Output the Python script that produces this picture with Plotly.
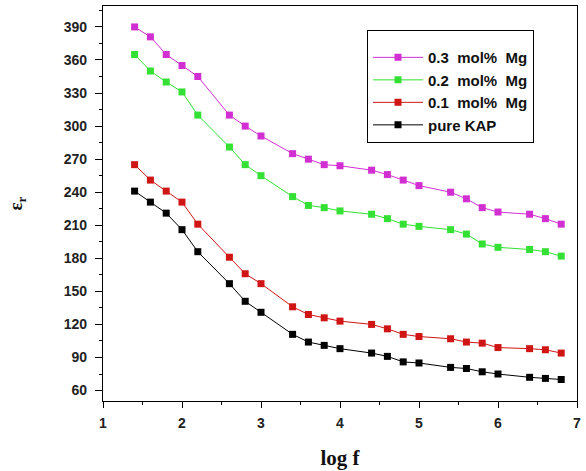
import plotly.graph_objects as go

log_f = [1.4, 1.6, 1.8, 2.0, 2.2, 2.6, 2.8, 3.0, 3.4, 3.6, 3.8, 4.0,
         4.4, 4.6, 4.8, 5.0, 5.4, 5.6, 5.8, 6.0, 6.4, 6.6, 6.8]

mg_03 = [390, 381, 365, 355, 345, 310, 300, 291, 275, 270, 265, 264,
         260, 256, 251, 246, 240, 234, 226, 222, 220, 216, 211]
mg_02 = [365, 350, 340, 331, 310, 281, 265, 255, 236, 228, 226, 223,
         220, 216, 211, 209, 206, 202, 193, 190, 188, 186, 182]
mg_01 = [265, 251, 241, 231, 211, 181, 166, 157, 136, 129, 126, 123,
         120, 116, 111, 109, 107, 104, 103, 99, 98, 97, 94]
pure_kap = [241, 231, 221, 206, 186, 157, 141, 131, 111, 104, 101, 98,
            94, 91, 86, 85, 81, 80, 77, 75, 72, 71, 70]

series = [
    ("0.3  mol%  Mg", mg_03, "#D12FD1"),
    ("0.2  mol%  Mg", mg_02, "#33E033"),
    ("0.1  mol%  Mg", mg_01, "#D01515"),
    ("pure KAP", pure_kap, "#000000"),
]

fig = go.Figure()
for name, vals, col in series:
    fig.add_trace(go.Scatter(
        x=log_f, y=vals, name=name, mode="lines+markers",
        line=dict(color=col, width=1),
        marker=dict(symbol="square", size=7, color=col),
    ))

tickfont = dict(family="Arial, Liberation Sans", size=14, color="#222222", weight="bold")

fig.update_layout(
    width=586, height=471,
    margin=dict(l=103, r=9, t=5, b=69),
    paper_bgcolor="white", plot_bgcolor="white",
    showlegend=True,
    legend=dict(
        x=0.557, y=0.94, xanchor="left", yanchor="top",
        bordercolor="black", borderwidth=1, bgcolor="white",
        font=dict(family="Arial, Liberation Sans", size=15, color="#111111", weight="bold"),
        title=dict(text=" ", font=dict(size=8)),
        itemwidth=50,
        tracegroupgap=0,
    ),
    xaxis=dict(
        range=[1, 7], tickmode="linear", tick0=1, dtick=1,
        showline=True, linecolor="black", linewidth=1.2, mirror=True,
        ticks="outside", ticklen=6, tickwidth=1, tickcolor="black",
        minor=dict(ticks="outside", ticklen=3, dtick=0.5, tickcolor="black"),
        showgrid=False, zeroline=False, tickfont=tickfont, ticklabelstandoff=3,
        title=dict(text="log f", font=dict(family="Times New Roman, Liberation Serif", size=21,
                                           color="#111111", weight="bold"), standoff=20),
    ),
    yaxis=dict(
        range=[50.5, 409], tickmode="linear", tick0=60, dtick=30,
        showline=True, linecolor="black", linewidth=1.2, mirror=True,
        ticks="outside", ticklen=7, tickwidth=1, tickcolor="black",
        minor=dict(ticks="outside", ticklen=3, dtick=15, tickcolor="black"),
        showgrid=False, zeroline=False, tickfont=tickfont, ticklabelstandoff=5,
        title=dict(text="ε<sub>r</sub>", font=dict(family="Times New Roman, Liberation Serif", size=19,
                                                  color="#111111", weight="bold"), standoff=36),
    ),
)

fig.write_html("out.html")
